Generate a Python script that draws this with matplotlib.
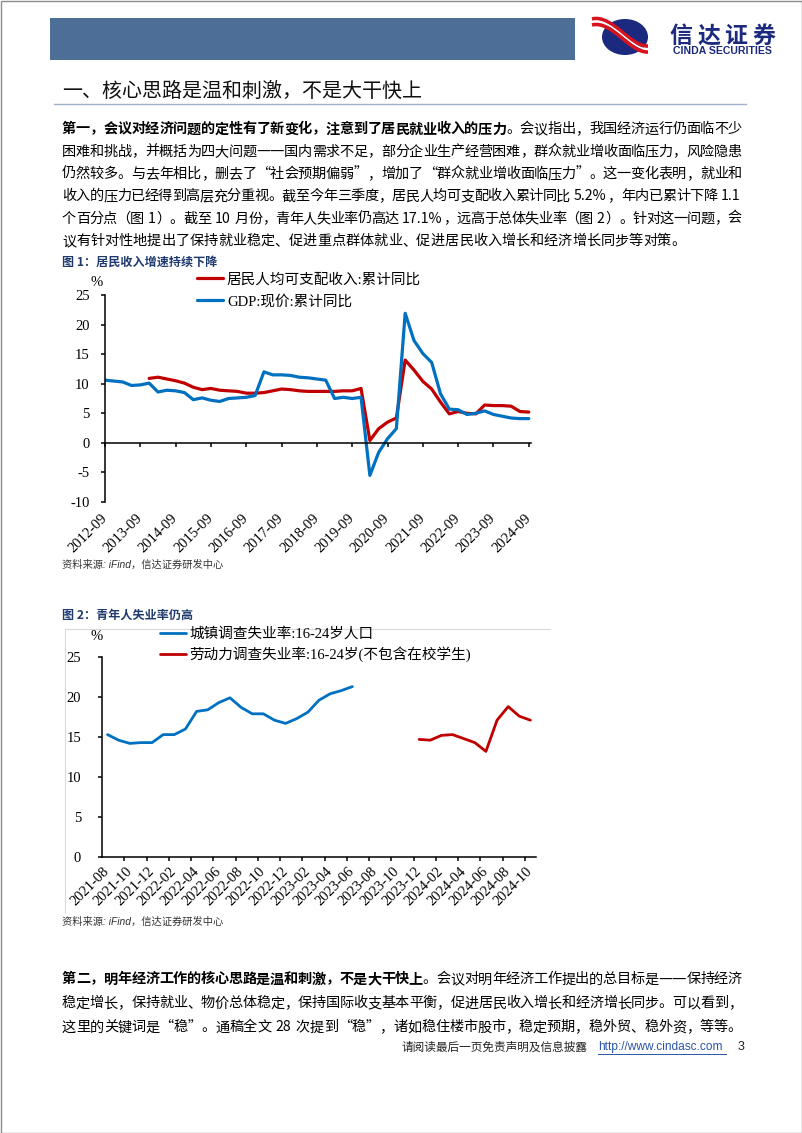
import numpy as np
import pandas as pd
import matplotlib
matplotlib.use("Agg")
import matplotlib.pyplot as plt
from matplotlib.font_manager import FontProperties
from matplotlib.patches import Rectangle, Ellipse, PathPatch
from matplotlib.path import Path

W, H = 802, 1133
RED = "#C00000"
BLUE = "#0070C0"
NAVY = "#1B2A7E"
CJK = "Noto Sans CJK SC"
SERIF = ["Liberation Serif", CJK]

plt.rcParams["font.family"] = [CJK, "DejaVu Sans"]
plt.rcParams["axes.unicode_minus"] = False

# ---- figure 1: quarterly cumulative yoy (%)
quarters = [f"{p.year}-{p.quarter * 3:02d}"
            for p in pd.period_range("2012Q3", "2024Q3", freq="Q")]
gdp = [10.6, 10.45,
       10.3, 9.7, 9.8, 10.1,
       8.6, 8.9, 8.8, 8.5,
       7.3, 7.6, 7.2, 7.0,
       7.5, 7.6, 7.7, 8.0,
       12.0, 11.5, 11.5, 11.4,
       11.1, 11.0, 10.8, 10.6,
       7.5, 7.7, 7.5, 7.7,
       -5.5, -1.6, 0.7, 2.4,
       21.9, 17.3, 15.1, 13.6,
       8.3, 5.7, 5.6, 4.8,
       5.0, 5.4, 4.8, 4.5,
       4.2, 4.1, 4.1]
income_start = "2013-12"
income = [10.9,
          11.1, 10.8, 10.5, 10.1,
          9.4, 9.0, 9.2, 8.9,
          8.8, 8.7, 8.4, 8.4,
          8.5, 8.8, 9.1, 9.0,
          8.8, 8.7, 8.7, 8.7,
          8.7, 8.8, 8.8, 9.2,
          0.4, 2.4, 3.5, 4.2,
          14.0, 12.3, 10.4, 9.1,
          6.9, 4.9, 5.3, 5.0,
          4.9, 6.4, 6.3, 6.3,
          6.2, 5.3, 5.2]

# ---- figure 2: youth unemployment (%)
months = [str(p) for p in pd.period_range("2021-08", "2024-10", freq="M")]
urban_start = "2021-08"
urban = [15.3, 14.6, 14.2, 14.3, 14.3, 15.3, 15.3, 16.0, 18.2, 18.4, 19.3, 19.9,
         18.7, 17.9, 17.9, 17.1, 16.7, 17.3, 18.1, 19.6, 20.4, 20.8, 21.3]
labour_start = "2023-12"
labour = [14.7, 14.6, 15.2, 15.3, 14.8, 14.3, 13.2, 17.1, 18.8, 17.6, 17.1]

para1 = [
    [("第一，会议对经济问题的定性有了新变化，注意到了居民就业收入的压力", True),
     ("。会议指出，我国经济运行仍面临不少", False)],
    [("困难和挑战，并概括为四大问题——国内需求不足，部分企业生产经营困难，群众就业增收面临压力，风险隐患", False)],
    [("仍然较多。与去年相比，删去了“社会预期偏弱”，增加了“群众就业增收面临压力”。这一变化表明，就业和", False)],
    [("收入的压力已经得到高层充分重视。截至今年三季度，居民人均可支配收入累计同比 5.2%，年内已累计下降 1.1", False)],
    [("个百分点（图 1）。截至 10 月份，青年人失业率仍高达 17.1%，远高于总体失业率（图 2）。针对这一问题，会", False)],
    [("议有针对性地提出了保持就业稳定、促进重点群体就业、促进居民收入增长和经济增长同步等对策。", False)],
]
para2 = [
    [("第二，明年经济工作的核心思路是温和刺激，不是大干快上", True),
     ("。会议对明年经济工作提出的总目标是——保持经济", False)],
    [("稳定增长，保持就业、物价总体稳定，保持国际收支基本平衡，促进居民收入增长和经济增长同步。可以看到，", False)],
    [("这里的关键词是“稳”。通稿全文 28 次提到“稳”，诸如稳住楼市股市，稳定预期，稳外贸、稳外资，等等。", False)],
]

fig = plt.figure(figsize=(W / 100, H / 100), dpi=100)
bg = fig.add_axes([0, 0, 1, 1])
bg.set_xlim(0, W)
bg.set_ylim(H, 0)
bg.axis("off")
renderer = fig.canvas.get_renderer()


def px_box(l, t, r, b):
    return [l / W, 1 - b / H, (r - l) / W, (b - t) / H]


def split_tokens(s):
    toks, buf, kind = [], "", None
    for ch in s:
        k = "a" if (ch.isascii() and ch != " ") else ("d" if ch == "—" else None)
        if k is not None and k == kind:
            buf += ch
            continue
        if buf:
            toks.append(buf)
        buf, kind = ch, k
    if buf:
        toks.append(buf)
    return toks


def tok_width(t, fp):
    em = fp.get_size_in_points() * 100 / 72
    if t == " ":
        return 0.3 * em
    if t[0].isascii():
        return renderer.get_text_width_height_descent(t, fp, ismath=False)[0] + 0.1 * em
    return len(t) * em


def text_line(segs, yc, x0=62, x1=742, size=10.2, justify=True):
    items = []
    for s, bold in segs:
        fp = FontProperties(family=CJK, size=size, weight="bold" if bold else "normal")
        for t in split_tokens(s):
            items.append((t, fp, tok_width(t, fp)))
    total = sum(i[2] for i in items)
    gap = (x1 - x0 - total) / (len(items) - 1) if justify else 0
    em = size * 100 / 72
    base = yc + 0.38 * em
    x = x0
    for t, fp, w in items:
        if t.startswith("—"):
            bg.text(x, base, t, family="DejaVu Sans", fontsize=size, ha="left",
                    va="baseline", color="black")
        elif t != " ":
            bg.text(x, base, t, fontproperties=fp, ha="left", va="baseline",
                    color="black")
        x += w + gap


# page frame and header
bg.add_patch(Rectangle((0.5, 0.5), W - 1, H - 1, fill=False, ec="#8C8C8C", lw=1))
bg.add_patch(Rectangle((50, 18), 525, 42, color="#4D6F97", lw=0))
bg.add_patch(Ellipse((625, 37), 46, 36, color=NAVY, lw=0))
for off, col, lw in [(-3, "#D7141E", 2.6), (0, "white", 1.3), (3, "#D7141E", 2.6)]:
    verts = [(592, 22 + off), (612, 17 + off), (630, 50 + off), (648, 49 + off)]
    bg.add_patch(PathPatch(Path(verts, [Path.MOVETO, Path.CURVE4, Path.CURVE4, Path.CURVE4]),
                           fill=False, ec=col, lw=lw, capstyle="butt"))
for i, ch in enumerate("信达证券"):
    bg.text(681 + 27.5 * i, 36, ch, fontsize=16.5, fontweight="bold", color=NAVY,
            ha="center", va="center")
bg.text(722, 51, "CINDA SECURITIES", family="Liberation Sans", fontsize=7.6,
        fontweight="bold", color=NAVY, ha="center", va="center")

bg.text(62, 91, "一、核心思路是温和刺激，不是大干快上", fontsize=14.4, color="#111111",
        ha="left", va="center")
bg.plot([54, 746], [104, 104], color="#9FB2CA", lw=1)

for i, segs in enumerate(para1):
    text_line(segs, 128 + 22.3 * i, justify=(i < len(para1) - 1))
for i, segs in enumerate(para2):
    text_line(segs, 978 + 24 * i)

bg.text(62, 262, "图 1：居民收入增速持续下降", fontsize=8.7, fontweight="bold",
        color="#1F3A6E", ha="left", va="center")
bg.text(62, 615, "图 2：青年人失业率仍高", fontsize=8.7, fontweight="bold",
        color="#1F3A6E", ha="left", va="center")
for y in (565, 922):
    bg.text(62, y, "资料来源: iFind，信达证券研发中心", family=["Liberation Sans", CJK],
            style="italic", fontsize=7.4, color="#333333", ha="left", va="center")
bg.plot([65, 550], [629, 629], color="#DADADA", lw=0.8)
bg.plot([65, 65], [629, 913], color="#DADADA", lw=0.8)
bg.text(97, 283, "%", family="Liberation Serif", fontsize=10.5, ha="center", va="center")
bg.text(97, 637, "%", family="Liberation Serif", fontsize=10.5, ha="center", va="center")

# footer
bg.text(402, 1047, "请阅读最后一页免责声明及信息披露", fontsize=8.4, color="#222222",
        ha="left", va="center")
bg.text(598, 1047, "http://www.cindasc.com", family="Liberation Sans", fontsize=8.6,
        color="#2A55A8", ha="left", va="center")
bg.plot([598, 726], [1054, 1054], color="#2A55A8", lw=0.7)
bg.text(741, 1047, "3", family="Liberation Sans", fontsize=9, color="#222222",
        ha="center", va="center")

# ---- chart 1
ax1 = fig.add_axes(px_box(105, 295, 531, 502))
ax1.set_facecolor("none")
for s in ("top", "right"):
    ax1.spines[s].set_visible(False)
ax1.spines["bottom"].set_position(("data", 0))
for s in ("bottom", "left"):
    ax1.spines[s].set_linewidth(1.1)
x_all = np.arange(len(quarters))
k0 = quarters.index(income_start)
l_red, = ax1.plot(x_all[k0:k0 + len(income)], income, color=RED, lw=2.3,
                  solid_joinstyle="round", solid_capstyle="round",
                  label="居民人均可支配收入:累计同比")
l_blue, = ax1.plot(x_all, gdp, color=BLUE, lw=2.3, solid_joinstyle="round",
                   solid_capstyle="round", label="GDP:现价:累计同比")
ax1.set_xlim(0, 48.25)
ax1.set_ylim(-10, 25)
ax1.set_yticks(range(-10, 26, 5))
ax1.set_xticks(x_all[::4])
ax1.set_xticklabels(quarters[::4], rotation=45, ha="right", va="center",
                    rotation_mode="anchor")
ax1.tick_params(axis="x", direction="out", length=3, width=1.1, pad=50)
ax1.tick_params(axis="y", direction="out", length=3, width=1.1, pad=8)
for lab in ax1.get_xticklabels() + ax1.get_yticklabels():
    lab.set_fontfamily("Liberation Serif")
    lab.set_fontsize(10.5)
ax1.legend(handles=[l_red, l_blue], loc="upper left", bbox_to_anchor=(197, 273),
           bbox_transform=bg.transData, frameon=False, borderpad=0, borderaxespad=0,
           handlelength=1.8, handletextpad=0.25, labelspacing=0.55,
           prop=FontProperties(family=SERIF, size=10.5))

# ---- chart 2
ax2 = fig.add_axes(px_box(102, 657, 536, 857))
ax2.set_facecolor("none")
for s in ("top", "right"):
    ax2.spines[s].set_visible(False)
for s in ("bottom", "left"):
    ax2.spines[s].set_linewidth(1.1)
xm = np.arange(len(months))
u0 = months.index(urban_start)
r0 = months.index(labour_start)
l_u, = ax2.plot(xm[u0:u0 + len(urban)], urban, color=BLUE, lw=2.0,
                solid_joinstyle="round", solid_capstyle="round",
                label="城镇调查失业率:16-24岁人口")
l_l, = ax2.plot(xm[r0:r0 + len(labour)], labour, color=RED, lw=2.0,
                solid_joinstyle="round", solid_capstyle="round",
                label="劳动力调查失业率:16-24岁(不包含在校学生)")
ax2.set_xlim(-0.5, len(months) - 0.5)
ax2.set_ylim(0, 25)
ax2.set_yticks(range(0, 26, 5))
ax2.set_xticks(xm[::2])
ax2.set_xticklabels(months[::2], rotation=45, ha="right", va="center",
                    rotation_mode="anchor")
ax2.set_xticks(np.arange(1.5, len(months) - 1, 2), minor=True)
ax2.tick_params(axis="x", which="major", length=0, pad=9)
ax2.tick_params(axis="x", which="minor", direction="out", length=3, width=1.1)
ax2.tick_params(axis="y", direction="out", length=3, width=1.1, pad=12)
for lab in ax2.get_xticklabels() + ax2.get_yticklabels():
    lab.set_fontfamily("Liberation Serif")
    lab.set_fontsize(10.5)
ax2.legend(handles=[l_u, l_l], loc="upper left", bbox_to_anchor=(160, 627),
           bbox_transform=bg.transData, frameon=False, borderpad=0, borderaxespad=0,
           handlelength=1.75, handletextpad=0.25, labelspacing=0.4,
           prop=FontProperties(family=SERIF, size=10.5))

fig.savefig("out.png", dpi=100)
